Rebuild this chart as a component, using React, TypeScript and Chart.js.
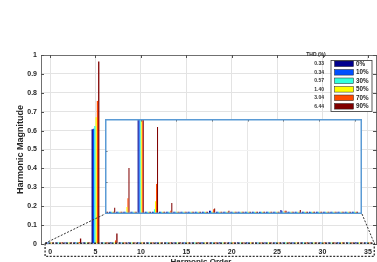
import React, { useEffect, useRef } from 'react';
import { Chart, registerables } from 'chart.js';
Chart.register(...registerables);

const harmonicOrders = [
  0, 1, 2, 3, 4, 5, 6, 7, 8, 9, 10, 11, 12, 13, 14, 15, 16, 17,
  18, 19, 20, 21, 22, 23, 24, 25, 26, 27, 28, 29, 30, 31, 32, 33, 34, 35,
];
const seriesLabels = ['0%', '10%', '30%', '50%', '70%', '90%'];
const thdValues = ['0.33', '0.34', '0.57', '1.40', '3.04', '6.44'];
const seriesColors = ['#00008f', '#0050ff', '#33ffdd', '#ffff00', '#ff4a00', '#800000'];

const mag0 = [
  0.001, 0.001, 0.001, 0.001, 0.001, 0.607,
  0.001, 0.001, 0.001, 0.001, 0.001, 0.001,
  0.001, 0.001, 0.001, 0.002, 0.001, 0.001,
  0.001, 0.001, 0.001, 0.001, 0.001, 0.001,
  0.001, 0.0025, 0.001, 0.001, 0.001, 0.001,
  0.001, 0.001, 0.001, 0.001, 0.001, 0.001,
];
const mag10 = [
  0.001, 0.001, 0.001, 0.001, 0.001, 0.610,
  0.001, 0.001, 0.001, 0.001, 0.001, 0.001,
  0.001, 0.001, 0.001, 0.002, 0.001, 0.001,
  0.001, 0.001, 0.001, 0.001, 0.001, 0.001,
  0.001, 0.002, 0.001, 0.001, 0.001, 0.001,
  0.001, 0.001, 0.001, 0.001, 0.001, 0.001,
];
const mag30 = [
  0.001, 0.001, 0.001, 0.001, 0.001, 0.624,
  0.001, 0.003, 0.001, 0.001, 0.001, 0.001,
  0.001, 0.001, 0.001, 0.0015, 0.001, 0.001,
  0.001, 0.001, 0.001, 0.001, 0.001, 0.001,
  0.001, 0.0015, 0.001, 0.001, 0.001, 0.001,
  0.001, 0.001, 0.001, 0.001, 0.001, 0.001,
];
const mag50 = [
  0.001, 0.001, 0.001, 0.0045, 0.001, 0.670,
  0.001, 0.008, 0.001, 0.0015, 0.001, 0.001,
  0.001, 0.001, 0.001, 0.0015, 0.001, 0.001,
  0.001, 0.001, 0.001, 0.001, 0.001, 0.001,
  0.001, 0.0015, 0.001, 0.001, 0.001, 0.001,
  0.001, 0.001, 0.001, 0.001, 0.001, 0.001,
];
const mag70 = [
  0.001, 0.0015, 0.001, 0.010, 0.001, 0.757,
  0.0015, 0.019, 0.001, 0.002, 0.001, 0.001,
  0.001, 0.001, 0.001, 0.003, 0.001, 0.001,
  0.001, 0.001, 0.001, 0.001, 0.001, 0.001,
  0.001, 0.002, 0.001, 0.001, 0.001, 0.001,
  0.001, 0.001, 0.001, 0.001, 0.001, 0.0015,
];
const mag90 = [
  0.001, 0.004, 0.001, 0.029, 0.001, 0.966,
  0.0015, 0.055, 0.001, 0.007, 0.001, 0.001,
  0.001, 0.0015, 0.001, 0.0034, 0.001, 0.002,
  0.001, 0.001, 0.001, 0.001, 0.001, 0.001,
  0.001, 0.002, 0.001, 0.0025, 0.001, 0.001,
  0.001, 0.001, 0.001, 0.001, 0.001, 0.0015,
];
const magnitudes = [mag0, mag10, mag30, mag50, mag70, mag90];

const xTickValues = [0, 5, 10, 15, 20, 25, 30, 35];
const yTickValues = [0, 0.1, 0.2, 0.3, 0.4, 0.5, 0.6, 0.7, 0.8, 0.9, 1];
const insetXGrid = [5, 10, 15, 20, 25, 30, 35];
const insetYGrid = [0.02, 0.04];
// zoom region (data units of main axes)
const zoomBox = { x0: -0.55, x1: 35.7, y0: -0.066, y1: 0.004 };

const W = 377;
const H = 262;
const INSET = { left: 105, top: 119, width: 257, height: 95 };
const FONT = "'Liberation Sans', Arial, sans-serif";
const TXT = '#262626';

function makeDatasets(minLen: number) {
  return magnitudes.map((m, i) => ({
    label: seriesLabels[i],
    data: harmonicOrders.map((o, j) => ({ x: o, y: m[j] })),
    backgroundColor: seriesColors[i],
    borderWidth: 0,
    barPercentage: 1,
    categoryPercentage: 0.86,
    minBarLength: minLen,
  }));
}

function line(ctx: CanvasRenderingContext2D, x1: number, y1: number, x2: number, y2: number) {
  ctx.beginPath();
  ctx.moveTo(x1, y1);
  ctx.lineTo(x2, y2);
  ctx.stroke();
}

const mainDecor = {
  id: 'mainDecor',
  afterDraw(chart: any) {
    const { ctx, chartArea: a } = chart;
    const x = chart.scales.x;
    const y = chart.scales.y;
    ctx.save();
    // top frame
    ctx.strokeStyle = '#707070';
    ctx.lineWidth = 1;
    line(ctx, a.left, a.top + 0.5, a.right, a.top + 0.5);
    line(ctx, a.right - 0.5, a.top, a.right - 0.5, a.bottom);
    // inward ticks
    ctx.strokeStyle = '#505050';
    yTickValues.forEach((v) => {
      const py = Math.round(y.getPixelForValue(v)) + 0.5;
      line(ctx, a.left, py, a.left + 3, py);
      line(ctx, a.right - 4, py, a.right, py);
    });
    xTickValues.forEach((v) => {
      const px = Math.round(x.getPixelForValue(v)) + 0.5;
      line(ctx, px, a.top, px, a.top + 3);
    });
    // zoom box
    const bx0 = x.getPixelForValue(zoomBox.x0);
    const bx1 = x.getPixelForValue(zoomBox.x1);
    const by0 = y.getPixelForValue(zoomBox.y1);
    const by1 = y.getPixelForValue(zoomBox.y0);
    ctx.strokeStyle = '#333';
    ctx.lineWidth = 1.3;
    ctx.setLineDash([2, 1.5]);
    ctx.strokeRect(bx0, by0, bx1 - bx0, by1 - by0);
    ctx.lineWidth = 1;
    line(ctx, bx0, by0, INSET.left, INSET.top + INSET.height);
    line(ctx, INSET.left + INSET.width, INSET.top + INSET.height, bx1, by0);
    ctx.setLineDash([]);
    // axis titles
    ctx.fillStyle = TXT;
    ctx.font = `bold 9px ${FONT}`;
    ctx.textAlign = 'center';
    ctx.textBaseline = 'middle';
    ctx.save();
    ctx.translate(20.5, (a.top + a.bottom) / 2);
    ctx.rotate(-Math.PI / 2);
    ctx.fillText('Harmonic Magnitude', 0, 0);
    ctx.restore();
    ctx.font = `bold 8px ${FONT}`;
    ctx.textBaseline = 'alphabetic';
    ctx.fillText('Harmonic Order', 201, 264);
    // legend
    const lg = { x: 331, y: 60.5, w: 41, h: 51 };
    ctx.fillStyle = '#fff';
    ctx.fillRect(lg.x, lg.y, lg.w, lg.h);
    ctx.strokeStyle = '#333';
    ctx.lineWidth = 0.8;
    ctx.strokeRect(lg.x, lg.y, lg.w, lg.h);
    ctx.textBaseline = 'middle';
    ctx.font = `bold 5px ${FONT}`;
    ctx.fillStyle = TXT;
    ctx.textAlign = 'center';
    ctx.fillText('THD (%)', 316, 54.5);
    seriesLabels.forEach((lab, i) => {
      const cy = 63.8 + i * 8.5;
      ctx.fillStyle = seriesColors[i];
      ctx.fillRect(334.5, cy - 2.8, 19, 5.6);
      ctx.strokeStyle = '#222';
      ctx.lineWidth = 0.5;
      ctx.strokeRect(334.5, cy - 2.8, 19, 5.6);
      ctx.fillStyle = TXT;
      ctx.font = `bold 6.3px ${FONT}`;
      ctx.textAlign = 'left';
      ctx.fillText(lab, 356, cy + 0.3);
      ctx.font = `bold 5px ${FONT}`;
      ctx.fillStyle = '#333';
      ctx.textAlign = 'right';
      ctx.fillText(thdValues[i], 324, cy + 0.3);
    });
    ctx.restore();
  },
};

const insetDecor = {
  id: 'insetDecor',
  beforeDraw(chart: any) {
    const { ctx } = chart;
    ctx.save();
    ctx.fillStyle = '#fff';
    ctx.fillRect(0, 0, chart.width, chart.height);
    ctx.restore();
  },
  afterDraw(chart: any) {
    const { ctx, chartArea: a } = chart;
    const x = chart.scales.x;
    const y = chart.scales.y;
    ctx.save();
    ctx.strokeStyle = '#666';
    ctx.lineWidth = 1;
    insetXGrid.forEach((v) => {
      const px = Math.round(x.getPixelForValue(v)) + 0.5;
      line(ctx, px, a.top, px, a.top + 2.5);
    });
    insetYGrid.forEach((v) => {
      const py = Math.round(y.getPixelForValue(v)) + 0.5;
      line(ctx, a.left, py, a.left + 2.5, py);
    });
    ctx.strokeStyle = '#5b9bd5';
    ctx.lineWidth = 1.5;
    ctx.strokeRect(a.left + 0.75, a.top + 0.75, a.right - a.left - 1.5, a.bottom - a.top - 1.5);
    ctx.restore();
  },
};

export default function App() {
  const mainRef = useRef<HTMLCanvasElement>(null);
  const insetRef = useRef<HTMLCanvasElement>(null);

  useEffect(() => {
    Chart.defaults.font.family = FONT;
    const tickFont = { family: FONT, size: 7, weight: 'bold' as const };
    const main = new Chart(mainRef.current as HTMLCanvasElement, {
      type: 'bar',
      data: { datasets: makeDatasets(1.6) as any },
      options: {
        responsive: false,
        animation: false,
        devicePixelRatio: 1,
        layout: { padding: { top: 55, left: 0, right: 0, bottom: 0 } },
        plugins: { legend: { display: false }, tooltip: { enabled: false } },
        scales: {
          x: {
            type: 'linear',
            offset: false,
            min: -1,
            max: 36,
            afterBuildTicks: (s: any) => {
              s.ticks = xTickValues.map((v) => ({ value: v }));
            },
            afterFit: (s: any) => {
              s.height = 18;
            },
            ticks: { font: tickFont, color: TXT, padding: 4, maxRotation: 0, autoSkip: false },
            grid: { color: '#e3e3e3', drawTicks: false, offset: false },
            border: { display: false },
          },
          y: {
            min: 0,
            max: 1,
            afterBuildTicks: (s: any) => {
              s.ticks = yTickValues.map((v) => ({ value: v }));
            },
            afterFit: (s: any) => {
              s.width = 41;
            },
            ticks: {
              font: tickFont,
              color: TXT,
              padding: 4,
              callback: (v: any) => String(Math.round(Number(v) * 10) / 10),
            },
            grid: { color: '#e3e3e3', drawTicks: false },
            border: { display: true, color: '#707070', width: 1 },
          },
        },
      },
      plugins: [mainDecor],
    });

    const inset = new Chart(insetRef.current as HTMLCanvasElement, {
      type: 'bar',
      data: { datasets: makeDatasets(2.2) as any },
      options: {
        responsive: false,
        animation: false,
        devicePixelRatio: 1,
        layout: { padding: 0 },
        plugins: { legend: { display: false }, tooltip: { enabled: false } },
        scales: {
          x: {
            type: 'linear',
            offset: false,
            min: 0,
            max: 36,
            afterBuildTicks: (s: any) => {
              s.ticks = insetXGrid.map((v) => ({ value: v }));
            },
            ticks: { display: false },
            grid: { color: '#e6e6e6', drawTicks: false, offset: false },
            border: { display: false },
          },
          y: {
            min: 0,
            max: 0.06,
            afterBuildTicks: (s: any) => {
              s.ticks = insetYGrid.map((v) => ({ value: v }));
            },
            ticks: { display: false },
            grid: { color: '#f2f2f2', drawTicks: false },
            border: { display: false },
          },
        },
      },
      plugins: [insetDecor],
    });

    return () => {
      main.destroy();
      inset.destroy();
    };
  }, []);

  return (
    <div style={{ position: 'fixed', left: 0, top: 0, width: W, height: H, background: '#fff', overflow: 'hidden' }}>
      <canvas ref={mainRef} width={W} height={H} style={{ position: 'absolute', left: 0, top: 0, display: 'block' }} />
      <canvas
        ref={insetRef}
        width={INSET.width}
        height={INSET.height}
        style={{ position: 'absolute', left: INSET.left, top: INSET.top, display: 'block' }}
      />
    </div>
  );
}
